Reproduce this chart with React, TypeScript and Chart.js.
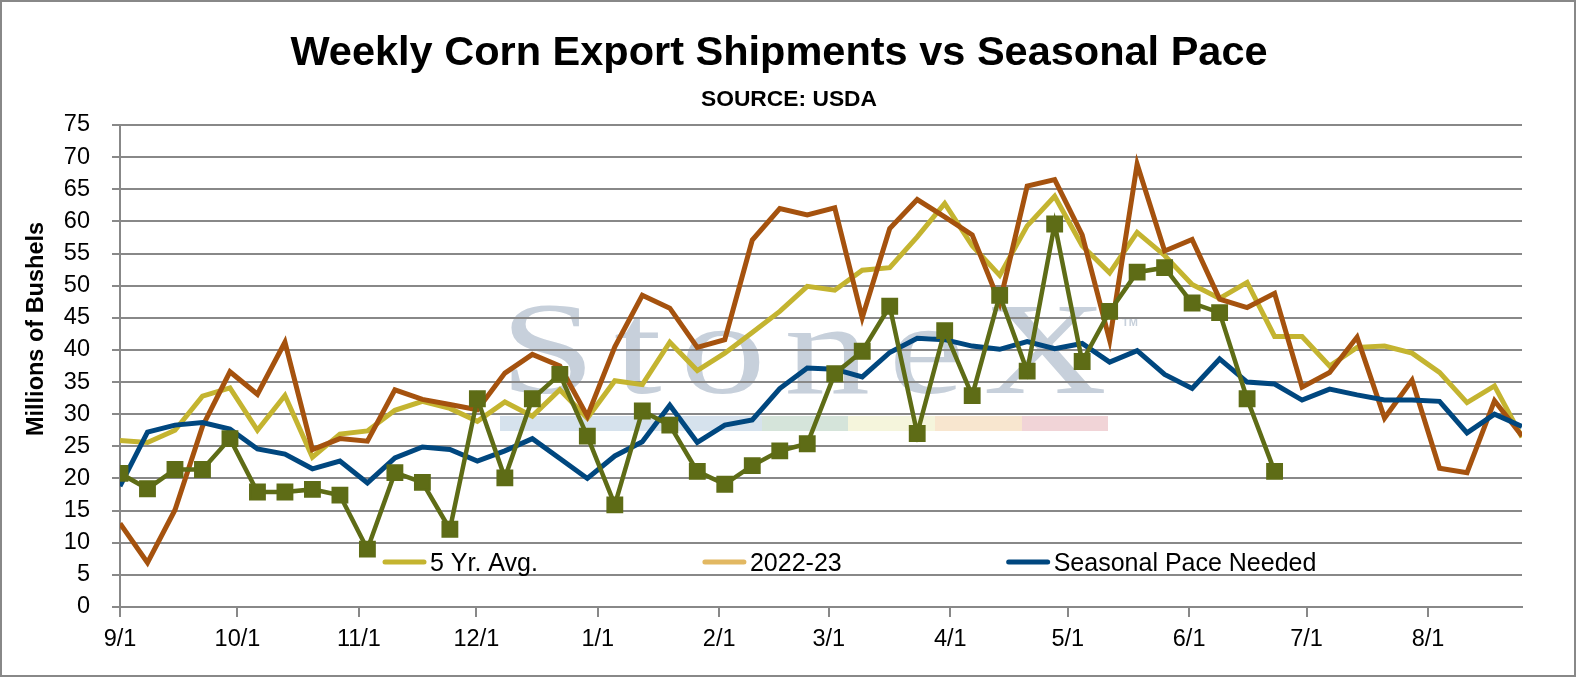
import { useEffect, useRef } from "react";
import { Chart, registerables } from "chart.js";

Chart.register(...registerables);

// ---- data ----
const MONTH_LABELS = ["9/1", "10/1", "11/1", "12/1", "1/1", "2/1", "3/1", "4/1", "5/1", "6/1", "7/1", "8/1"];
const MONTH_DAYS = [0, 30, 61, 91, 122, 153, 181, 212, 242, 273, 303, 334];
const AXIS_END_DAY = 358;
const WEEK_COUNT = 52;

const FIVE_YR_AVG = [
  25.9, 25.6, 27.5, 32.8, 34.1, 27.5, 32.9, 23.3, 26.9, 27.4, 30.6, 32.0, 30.9,
  28.9, 31.9, 29.7, 33.8, 29.4, 35.2, 34.6, 41.2, 36.8, 39.5, 42.7, 46.0, 49.9,
  49.3, 52.4, 52.8, 57.6, 62.8, 56.2, 51.6, 59.3, 63.9, 56.2, 52.0, 58.3, 54.7,
  50.2, 48.0, 50.5, 42.1, 42.1, 37.5, 40.4, 40.6, 39.5, 36.5, 31.8, 34.4, 26.4,
];
const YEAR_2022_23 = [
  13.0, 6.9, 15.1, 28.1, 36.6, 33.1, 41.2, 24.5, 26.2, 25.8, 33.8, 32.3, 31.5,
  30.7, 36.4, 39.3, 37.5, 29.7, 40.5, 48.5, 46.5, 40.4, 41.6, 57.1, 62.0, 61.0,
  62.1, 45.0, 58.9, 63.4, 60.7, 57.9, 47.3, 65.5, 66.5, 57.9, 41.5, 68.9, 55.4,
  57.2, 47.9, 46.6, 48.8, 34.2, 36.5, 42.0, 29.4, 35.3, 21.6, 20.9, 32.1, 26.6,
];
const YEAR_2023_24 = [
  20.8, 18.4, 21.4, 21.4, 26.2, 17.9, 17.9, 18.3, 17.4, 9.0, 20.9, 19.4, 12.1,
  32.4, 20.1, 32.4, 36.2, 26.6, 15.9, 30.5, 28.3, 21.1, 19.1, 22.0, 24.3, 25.4,
  36.3, 39.8, 46.8, 27.0, 43.0, 32.9, 48.5, 36.7, 59.6, 38.2, 46.0, 52.1, 52.8,
  47.3, 45.8, 32.4, 21.1,
];
const SEASONAL_PACE = [
  18.8, 27.2, 28.3, 28.7, 27.7, 24.6, 23.8, 21.5, 22.7, 19.3, 23.2, 24.9, 24.5,
  22.7, 24.3, 26.2, 23.1, 20.0, 23.5, 25.7, 31.4, 25.6, 28.3, 29.1, 34.0, 37.2,
  37.0, 35.8, 39.6, 41.8, 41.6, 40.6, 40.1, 41.3, 40.2, 41.0, 38.1, 39.9, 36.2,
  34.0, 38.6, 35.0, 34.7, 32.2, 33.9, 33.0, 32.2, 32.2, 32.0, 27.1, 30.0, 28.1,
];

const TITLE = "Weekly Corn Export Shipments vs Seasonal Pace";
const SUBTITLE = "SOURCE: USDA";
const Y_TITLE = "Millions of Bushels";
const Y_MIN = 0;
const Y_MAX = 75;
const Y_STEP = 5;

// ---- styles ----
const FONT = "'Liberation Sans', Arial, sans-serif";
const GRID = "#888888";
const C_AVG = "#C4B430";
const C_PRIOR = "#A5520E";
const C_PRIOR_LEGEND = "#E2B862";
const C_CUR = "#5E6C16";
const C_PACE = "#00477F";
const C_MARK = "#C7D0DB";

const STEP_DAYS = AXIS_END_DAY / (WEEK_COUNT - 1);
const toPoints = (arr: number[]) => arr.map((v, i) => ({ x: i * STEP_DAYS, y: v }));

const decorPlugin = {
  id: "decor",
  beforeDraw(chart: any) {
    const ctx = chart.ctx as CanvasRenderingContext2D;
    ctx.save();
    ctx.fillStyle = "#ffffff";
    ctx.fillRect(0, 0, chart.width, chart.height);
    // watermark bars
    const bars: [number, number, string][] = [
      [500, 762, "#D6E2ED"],
      [762, 848, "#D5E4DA"],
      [848, 935, "#F5F5DC"],
      [935, 1022, "#F8E6CF"],
      [1022, 1108, "#F1D4D7"],
    ];
    bars.forEach(([a, b, c]) => {
      ctx.fillStyle = c;
      ctx.fillRect(a, 416, b - a, 15);
    });
    // watermark text
    ctx.fillStyle = C_MARK;
    ctx.font = "132px 'Liberation Serif', 'DejaVu Serif', serif";
    ctx.textBaseline = "alphabetic";
    ctx.textAlign = "left";
    const word = "StoneX";
    const sx = 1.3;
    const w0 = ctx.measureText(word).width;
    const gap = (607 / sx - w0) / (word.length - 1);
    ctx.translate(500, 393);
    ctx.scale(sx, 1);
    let x = 0;
    for (const ch of word) {
      ctx.fillText(ch, x, 0);
      x += ctx.measureText(ch).width + gap;
    }
    ctx.restore();
    ctx.save();
    ctx.fillStyle = C_MARK;
    ctx.font = `bold 11px ${FONT}`;
    ctx.textBaseline = "alphabetic";
    ctx.fillText("TM", 1122, 326);
    ctx.restore();
  },
  afterDraw(chart: any) {
    const ctx = chart.ctx as CanvasRenderingContext2D;
    ctx.save();
    // border
    ctx.strokeStyle = GRID;
    ctx.lineWidth = 2;
    ctx.strokeRect(1, 1, 1574, 675);
    // title
    ctx.fillStyle = "#000";
    ctx.textAlign = "center";
    ctx.textBaseline = "alphabetic";
    ctx.font = `bold 41.5px ${FONT}`;
    ctx.fillText(TITLE, 779, 65);
    ctx.font = `bold 22.8px ${FONT}`;
    ctx.fillText(SUBTITLE, 789, 106);
    // y title
    ctx.save();
    ctx.translate(43, 329);
    ctx.rotate(-Math.PI / 2);
    ctx.font = `bold 23.5px ${FONT}`;
    ctx.fillText(Y_TITLE, 0, 0);
    ctx.restore();
    // legend
    ctx.font = `25px ${FONT}`;
    ctx.textAlign = "left";
    let lx = 383;
    const ly = 562;
    chart.data.datasets.forEach((ds: any) => {
      if (!ds.legendColor) return;
      ctx.strokeStyle = ds.legendColor;
      ctx.lineWidth = 5;
      ctx.lineCap = "round";
      ctx.beginPath();
      ctx.moveTo(lx + 2, ly);
      ctx.lineTo(lx + 41, ly);
      ctx.stroke();
      ctx.fillStyle = "#000";
      ctx.fillText(ds.label, lx + 47, 571);
      lx += 47 + ctx.measureText(ds.label).width + 165;
    });
    ctx.restore();
  },
};

export default function App() {
  const ref = useRef<HTMLCanvasElement | null>(null);
  useEffect(() => {
    document.body.style.margin = "0";
    if (!ref.current) return;
    const chart = new Chart(ref.current, {
      type: "line",
      data: {
        datasets: [
          {
            label: "5 Yr. Avg.",
            legendColor: C_AVG,
            data: toPoints(FIVE_YR_AVG),
            borderColor: C_AVG,
            backgroundColor: C_AVG,
            borderWidth: 5,
            pointRadius: 0,
            tension: 0,
            order: 4,
          } as any,
          {
            label: "2022-23",
            legendColor: C_PRIOR_LEGEND,
            data: toPoints(YEAR_2022_23),
            borderColor: C_PRIOR,
            backgroundColor: C_PRIOR,
            borderWidth: 5,
            pointRadius: 0,
            tension: 0,
            order: 3,
          } as any,
          {
            label: "Seasonal Pace Needed",
            legendColor: C_PACE,
            data: toPoints(SEASONAL_PACE),
            borderColor: C_PACE,
            backgroundColor: C_PACE,
            borderWidth: 5,
            pointRadius: 0,
            tension: 0,
            order: 2,
          } as any,
          {
            label: "2023-24",
            data: toPoints(YEAR_2023_24),
            borderColor: C_CUR,
            backgroundColor: C_CUR,
            borderWidth: 4.5,
            pointStyle: "rect",
            pointRadius: 10.5,
            pointBorderWidth: 2,
            pointBorderColor: C_CUR,
            pointBackgroundColor: C_CUR,
            tension: 0,
            order: 1,
          } as any,
        ],
      },
      options: {
        animation: false,
        responsive: true,
        maintainAspectRatio: false,
        layout: { padding: { top: 125, right: 55, bottom: 0, left: 0 } },
        plugins: {
          legend: { display: false },
          title: { display: false },
          tooltip: { enabled: false },
        },
        scales: {
          x: {
            type: "linear",
            min: 0,
            max: AXIS_END_DAY,
            afterBuildTicks: (s: any) => {
              s.ticks = MONTH_DAYS.map((v) => ({ value: v }));
            },
            afterFit: (s: any) => {
              s.height = 70;
            },
            ticks: {
              autoSkip: false,
              maxRotation: 0,
              padding: 8,
              color: "#000",
              font: { family: FONT, size: 23.5 },
              callback: (v: any) => {
                const i = MONTH_DAYS.indexOf(Number(v));
                return i >= 0 ? MONTH_LABELS[i] : "";
              },
            },
            grid: {
              display: true,
              drawOnChartArea: false,
              drawTicks: true,
              tickLength: 10,
              color: GRID,
              lineWidth: 2,
            },
            border: { display: true, color: GRID, width: 2 },
          },
          y: {
            min: Y_MIN,
            max: Y_MAX,
            afterFit: (s: any) => {
              s.width = 120;
            },
            ticks: {
              stepSize: Y_STEP,
              padding: 22,
              color: "#000",
              font: { family: FONT, size: 23.5 },
            },
            grid: {
              color: GRID,
              lineWidth: 2,
              drawTicks: true,
              tickLength: 8,
            },
            border: { display: true, color: GRID, width: 2 },
          },
        },
      },
      plugins: [decorPlugin],
    });
    return () => chart.destroy();
  }, []);
  return (
    <div style={{ position: "relative", width: 1577, height: 677 }}>
      <canvas ref={ref} />
    </div>
  );
}
